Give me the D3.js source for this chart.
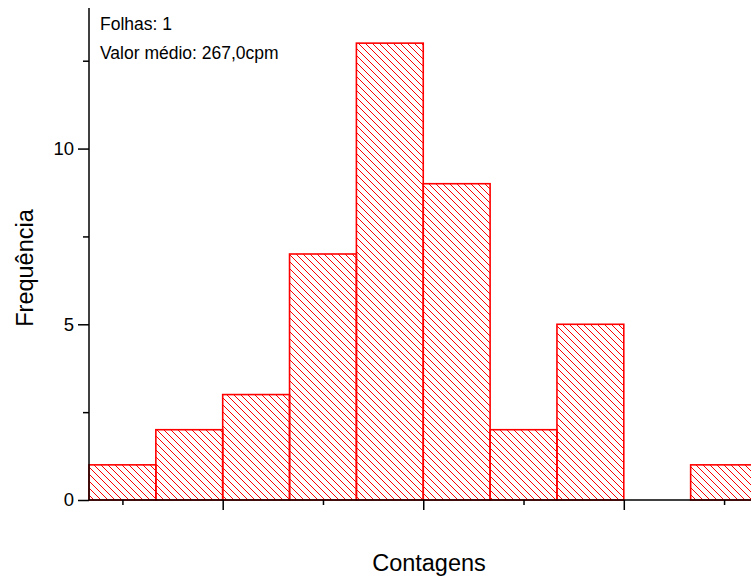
<!DOCTYPE html>
<html>
<head>
<meta charset="utf-8">
<script src="https://cdn.jsdelivr.net/npm/d3@7"></script>
<style>
  html, body { margin: 0; padding: 0; background: #fff; }
  svg { display: block; font-family: "Liberation Sans", Arial, sans-serif; }
</style>
</head>
<body>
<svg id="chart" width="751" height="581"></svg>
<script>
// Histogram bins (cpm) and counts per bin
const binEdges = [220, 230, 240, 250, 260, 270, 280, 290, 300, 310, 320];
const counts = [1, 2, 3, 7, 13, 9, 2, 5, 0, 1];
const yMajorTicks = [0, 5, 10];
const yTickLabels = ["0", "5", "10"];
const yMinorTicks = [2.5, 7.5, 12.5];
const xMajorTicks = [240, 270, 300];
const xMinorTicks = [225, 255, 285, 315];
const notes = ["Folhas: 1", "Valor médio: 267,0cpm"];
const xTitle = "Contagens";
const yTitle = "Frequência";

const svg = d3.select("#chart");
const red = "#ff0000";

const x = d3.scaleLinear().domain([220, 320]).range([89, 757.5]);
const y = d3.scaleLinear().domain([0, 14]).range([500, 8]);

// Diagonal hatch fill for the bars
const defs = svg.append("defs");
const pat = defs.append("pattern")
  .attr("id", "hatch")
  .attr("patternUnits", "userSpaceOnUse")
  .attr("width", 7).attr("height", 7);
pat.append("path")
  .attr("d", "M-1,-1 L8,8 M-1,6 L1,8 M6,-1 L8,1")
  .attr("stroke", red).attr("stroke-width", 1).attr("fill", "none");

const bins = counts.map((c, i) => ({ x0: binEdges[i], x1: binEdges[i + 1], n: c }));

svg.append("g").selectAll("rect")
  .data(bins.filter(d => d.n > 0))
  .join("rect")
  .attr("x", d => x(d.x0))
  .attr("y", d => y(d.n))
  .attr("width", d => x(d.x1) - x(d.x0))
  .attr("height", d => y(0) - y(d.n))
  .attr("fill", "url(#hatch)")
  .attr("stroke", red)
  .attr("stroke-width", 1.6);

// Y axis: major ticks with labels, minor ticks without
const yAxis = svg.append("g").attr("transform", `translate(${x(220)},0)`);
yAxis.call(d3.axisLeft(y).tickValues(yMajorTicks)
  .tickFormat((d, i) => yTickLabels[i]).tickSize(11).tickPadding(4));
yAxis.append("g").call(d3.axisLeft(y).tickValues(yMinorTicks)
  .tickFormat("").tickSize(6))
  .select(".domain").remove();
yAxis.selectAll("path.domain").attr("d", `M0,${y(14)}V${y(0)}`);

// X axis: unlabeled major and minor ticks
const xAxis = svg.append("g").attr("transform", `translate(0,${y(0)})`);
xAxis.call(d3.axisBottom(x).tickValues(xMajorTicks).tickFormat("").tickSize(10));
xAxis.append("g").call(d3.axisBottom(x).tickValues(xMinorTicks)
  .tickFormat("").tickSize(5))
  .select(".domain").remove();
xAxis.selectAll("path.domain").attr("d", `M${x(220)},0H751`);

svg.selectAll(".domain, .tick line")
  .attr("stroke", "#000").attr("stroke-width", 1.5);
svg.selectAll(".tick text")
  .attr("font-size", 18.5).attr("fill", "#000")
  .attr("font-family", "Liberation Sans, Arial, sans-serif");

// Annotation text
svg.append("g").selectAll("text")
  .data(notes)
  .join("text")
  .attr("x", 100)
  .attr("y", (d, i) => 30 + i * 29)
  .attr("font-size", 17.5)
  .text(d => d);

// Axis titles
svg.append("text")
  .attr("x", 429).attr("y", 571)
  .attr("text-anchor", "middle")
  .attr("font-size", 23.5)
  .text(xTitle);

svg.append("text")
  .attr("transform", "translate(33,268) rotate(-90)")
  .attr("text-anchor", "middle")
  .attr("font-size", 23.5)
  .text(yTitle);
</script>
</body>
</html>
